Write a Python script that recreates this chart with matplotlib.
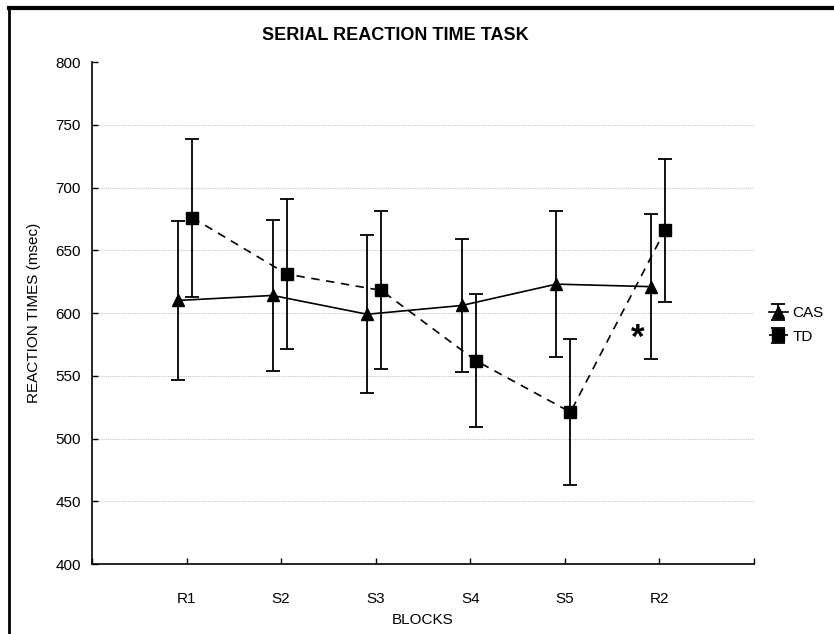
import numpy as np
import matplotlib.pyplot as plt
from matplotlib.lines import Line2D

plt.rcParams['font.family'] = ['Liberation Sans', 'DejaVu Sans']

# Daten
blocks = ["R1", "S2", "S3", "S4", "S5", "R2"]
cas_mean = [610, 614, 599, 606, 623, 621]
cas_err = [63, 60, 63, 53, 58, 58]
td_mean = [676, 631, 618, 562, 521, 666]
td_err = [63, 60, 63, 53, 58, 57]

x = np.arange(1, len(blocks) + 1)

fig = plt.figure(figsize=(8.34, 6.34), dpi=100)
ax = fig.add_axes([0.1103, 0.1104, 0.7937, 0.7918])

ax.errorbar(x - 0.09, cas_mean, yerr=cas_err, color="black", linestyle="-",
            linewidth=1.2, marker="^", markersize=9, capsize=5, elinewidth=1.3,
            capthick=1.3, label="CAS", zorder=3)
ax.errorbar(x + 0.06, td_mean, yerr=td_err, color="black", linestyle=(0, (5, 4)),
            linewidth=1.2, marker="s", markersize=8, capsize=5, elinewidth=1.3,
            capthick=1.3, label="TD", zorder=3)

ax.set_xlim(0, 7)
ax.set_ylim(400, 800)
ax.set_xticks(range(0, 8))
ax.set_xticklabels([""] + blocks + [""])
ax.set_yticks(range(400, 801, 50))
ax.tick_params(direction="in", length=4, width=1, labelsize=11, pad=8)
ax.tick_params(axis="x", pad=20)

for s in ["top", "right"]:
    ax.spines[s].set_visible(False)
for s in ["left", "bottom"]:
    ax.spines[s].set_linewidth(1.2)

for v in range(450, 800, 50):
    ax.axhline(v, color="#c4c4c4", linestyle=(0, (1, 1)), linewidth=0.8, zorder=0)

ax.set_xlabel("BLOCKS", fontsize=11, labelpad=5)
ax.set_ylabel("REACTION TIMES (msec)", fontsize=11, labelpad=10)

ax.text(5.77, 580, "*", fontsize=25, fontweight="bold", ha="center", va="center")

fig.text(395 / 834, 1 - 35 / 634, "SERIAL REACTION TIME TASK", fontsize=13,
         fontweight="bold", ha="center", va="center")

leg = ax.legend(loc="center left", bbox_to_anchor=(1.0, 0.476), frameon=False,
                fontsize=11, handlelength=1.2, handletextpad=0.3,
                labelspacing=0.6, borderaxespad=0.6)

# Rahmen um die Grafik
fig.add_artist(Line2D([9 / 834, 9 / 834], [0, 1 - 8 / 634], color="black", linewidth=2))
fig.add_artist(Line2D([9 / 834, 1], [1 - 8 / 634, 1 - 8 / 634], color="black", linewidth=3))

fig.savefig("out.png", dpi=100)
